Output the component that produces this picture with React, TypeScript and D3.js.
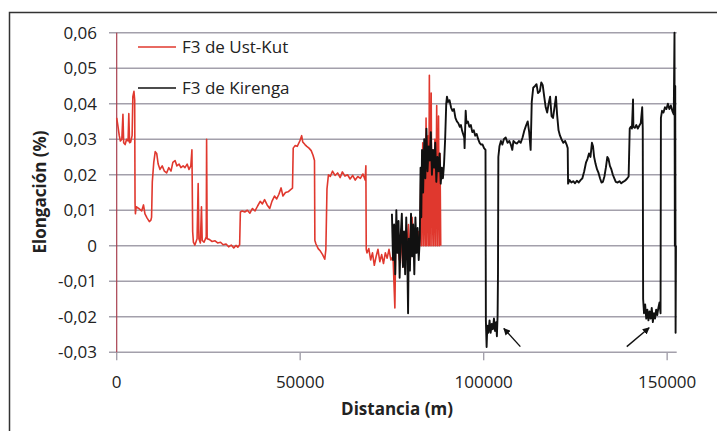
import React from 'react';
import * as d3 from 'd3';

// F3 de Ust-Kut: [distancia (m), elongación (%)]
const ustKut: [number, number][] = [
  [0, 0.036], [300, 0.034], [700, 0.031], [1000, 0.0295], [1400, 0.030], [1700, 0.037], [1900, 0.029],
  [2300, 0.0285], [2700, 0.030], [3100, 0.0295], [3300, 0.0372], [3500, 0.029], [3800, 0.0292], [4200, 0.031],
  [4400, 0.042], [4700, 0.0435], [4900, 0.041], [5000, 0.012], [5100, 0.009], [5300, 0.011], [6000, 0.0105],
  [6800, 0.0098], [7300, 0.0115], [7700, 0.009], [8300, 0.0078], [8900, 0.0068], [9300, 0.0072], [9500, 0.008],
  [9700, 0.018], [10100, 0.0235], [10500, 0.0265], [10900, 0.026], [11300, 0.023], [11800, 0.0215], [12400, 0.0225],
  [13000, 0.021], [13600, 0.0205], [14200, 0.022], [14800, 0.021], [15300, 0.0235], [15900, 0.024], [16400, 0.0225],
  [17000, 0.023], [17500, 0.022], [18100, 0.0225], [18600, 0.022], [19200, 0.023], [19700, 0.0215], [20200, 0.0225],
  [20500, 0.027], [20700, 0.004], [20900, 0.001], [21300, 0.0002], [21900, 0.002], [22200, 0.0175], [22400, 0.002],
  [22800, 0.0008], [23100, 0.011], [23300, 0.0015], [23800, 0.001], [24400, 0.0025], [24500, 0.030], [24650, 0.002],
  [25200, 0.0018], [26000, 0.0012], [26800, 0.0014], [27500, 0.0008], [28300, 0.001], [29000, 0.0003], [29800, 0.0005],
  [30500, -0.0003], [31200, 0.0002], [31900, -0.0006], [32500, 0.0001], [33000, -0.0004], [33500, 0.0003],
  [33700, 0.0095], [34200, 0.0098], [34900, 0.0095], [35600, 0.010], [36300, 0.0092], [37000, 0.0105], [37700, 0.0098],
  [38400, 0.0112], [39100, 0.0125], [39700, 0.0118], [40300, 0.013], [41000, 0.0115], [41700, 0.0105], [42300, 0.0125],
  [43000, 0.014], [43600, 0.0132], [44200, 0.0145], [44800, 0.0163], [45300, 0.014], [46000, 0.015], [46700, 0.0152],
  [47400, 0.0158], [47900, 0.0162], [48100, 0.0275], [48600, 0.0282], [49200, 0.028], [49900, 0.0295], [50400, 0.031],
  [50700, 0.0292], [51300, 0.0285], [51800, 0.028], [52400, 0.0275], [53000, 0.0268], [53500, 0.0255], [53900, 0.024],
  [54000, 0.0015], [54300, 0.0005], [54900, -0.0008], [55500, -0.0015], [56100, -0.0025], [56700, -0.0038], [57000, -0.001],
  [57300, 0.016], [57700, 0.020], [58200, 0.0195], [58800, 0.021], [59500, 0.0198], [60200, 0.0205], [60900, 0.0192],
  [61500, 0.0208], [62200, 0.0196], [62900, 0.020], [63600, 0.0188], [64300, 0.0198], [65000, 0.0185], [65700, 0.0195],
  [66400, 0.019], [67100, 0.0202], [67700, 0.0185], [67900, 0.0225], [68000, -0.001], [68200, -0.002], [68700, -0.0008],
  [69200, -0.004], [69700, -0.002], [70200, -0.0055], [70700, -0.003], [71200, -0.001], [71700, -0.0045], [72200, -0.0025],
  [72700, -0.005], [73200, -0.002], [73700, -0.0035], [74200, -0.001], [74700, -0.004], [75300, -0.003], [75800, -0.0175],
  [76000, -0.002], [76500, 0.002], [77000, -0.004], [77500, 0.001], [78000, -0.006], [78500, 0.003], [79000, -0.002],
  [79500, 0.006], [80000, -0.004], [80500, 0.008], [81000, -0.003], [81500, 0.004], [82000, -0.001], [82300, 0.004],
  [82600, 0.0], [82900, 0.021], [83100, 0.0], [83400, 0.029], [83600, 0.0], [83900, 0.025], [84100, 0.0], [84300, 0.036],
  [84500, 0.0], [84800, 0.031], [85000, 0.0], [85200, 0.048], [85400, 0.0], [85700, 0.043], [85900, 0.0], [86200, 0.027],
  [86400, 0.0], [86700, 0.030], [86900, 0.0], [87200, 0.0395], [87400, 0.0], [87700, 0.0365], [87900, 0.0], [88100, 0.026],
  [88300, 0.0],
];

// F3 de Kirenga: [distancia (m), elongación (%)]
const kirenga: [number, number][] = [
  [75000, 0.009], [75300, -0.004], [75600, 0.006], [75900, -0.008], [76200, 0.010], [76500, -0.002], [76800, 0.007],
  [77100, -0.009], [77400, 0.003], [77700, 0.009], [78000, -0.006], [78300, 0.004], [78600, -0.008], [78900, 0.008],
  [79200, -0.004], [79400, -0.019], [79600, 0.002], [79900, -0.007], [80200, 0.009], [80500, -0.003], [80800, 0.006],
  [81100, -0.008], [81400, 0.008], [81700, -0.002], [82000, 0.005], [82300, -0.004], [82600, 0.002], [82800, 0.022],
  [83000, 0.008], [83200, 0.027], [83500, 0.015], [83800, 0.030], [84100, 0.019], [84400, 0.033], [84700, 0.021],
  [85000, 0.028], [85300, 0.024], [85600, 0.032], [85900, 0.020], [86200, 0.027], [86500, 0.022], [86800, 0.029],
  [87100, 0.018], [87400, 0.025], [87700, 0.021], [88000, 0.026], [88300, 0.0175], [88600, 0.022], [88900, 0.019],
  [89200, 0.023], [89500, 0.030], [89800, 0.040], [90000, 0.042], [90300, 0.0405], [90700, 0.041], [91100, 0.039],
  [91500, 0.038], [91900, 0.0385], [92300, 0.036], [92700, 0.035], [93100, 0.0345], [93500, 0.0335], [93800, 0.034],
  [94100, 0.0325], [94400, 0.0315], [94700, 0.0305], [94800, 0.0275], [94900, 0.031], [95100, 0.038], [95300, 0.0345],
  [95700, 0.035], [96100, 0.0335], [96500, 0.034], [96900, 0.032], [97300, 0.0325], [97700, 0.031], [98100, 0.0315],
  [98500, 0.030], [98900, 0.029], [99300, 0.0285], [99700, 0.0285], [100100, 0.0275], [100500, 0.027], [100600, -0.021],
  [100800, -0.0285], [101000, -0.0225], [101300, -0.0245], [101600, -0.021], [101900, -0.0245], [102200, -0.022],
  [102500, -0.0235], [102800, -0.0205], [103100, -0.024], [103400, -0.0215], [103600, -0.0255], [103800, -0.0195],
  [103900, -0.008], [104000, 0.025], [104300, 0.028], [104700, 0.0295], [105100, 0.0285], [105500, 0.030], [106000, 0.0305],
  [106500, 0.029], [107000, 0.0295], [107400, 0.0285], [107800, 0.027], [108100, 0.0295], [108600, 0.029], [109100, 0.0288],
  [109600, 0.0295], [110100, 0.029], [110600, 0.0305], [111100, 0.0325], [111600, 0.034], [112000, 0.035], [112400, 0.032],
  [112800, 0.027], [113100, 0.0405], [113500, 0.0445], [114000, 0.045], [114400, 0.0455], [114800, 0.043], [115300, 0.0435],
  [115700, 0.046], [116100, 0.0452], [116500, 0.042], [116900, 0.039], [117300, 0.0375], [117700, 0.040], [118100, 0.042],
  [118500, 0.0365], [118900, 0.036], [119300, 0.039], [119700, 0.042], [120000, 0.037], [120400, 0.0325], [120800, 0.031],
  [121200, 0.030], [121700, 0.029], [122200, 0.0295], [122600, 0.0285], [122900, 0.0275], [123000, 0.0175], [123400, 0.0185],
  [123900, 0.0178], [124400, 0.0182], [124900, 0.0176], [125400, 0.0183], [125900, 0.0178], [126400, 0.0185], [126900, 0.019],
  [127400, 0.021], [127900, 0.0235], [128300, 0.0245], [128700, 0.026], [129100, 0.025], [129500, 0.029], [129800, 0.028],
  [130100, 0.025], [130500, 0.023], [130900, 0.0215], [131300, 0.0205], [131700, 0.019], [132100, 0.0178], [132500, 0.018],
  [132900, 0.0195], [133300, 0.022], [133700, 0.025], [134000, 0.0245], [134400, 0.0225], [134800, 0.0215], [135200, 0.020],
  [135600, 0.019], [136000, 0.018], [136500, 0.0178], [137000, 0.0182], [137500, 0.0176], [138000, 0.018], [138500, 0.0183],
  [139000, 0.0188], [139500, 0.0195], [139800, 0.033], [140100, 0.0335], [140400, 0.033], [140700, 0.0412], [140800, 0.0335],
  [141200, 0.0332], [141600, 0.034], [142000, 0.033], [142400, 0.0338], [142800, 0.0345], [143200, 0.039], [143350, 0.033],
  [143450, -0.015], [143700, -0.019], [144000, -0.0165], [144300, -0.0205], [144600, -0.018], [144900, -0.021],
  [145200, -0.0185], [145500, -0.0205], [145800, -0.0175], [146100, -0.0215], [146400, -0.019], [146700, -0.0205],
  [147000, -0.018], [147300, -0.0195], [147600, -0.0175], [147900, -0.016], [148200, -0.019], [148300, 0.036],
  [148600, 0.038], [149000, 0.0375], [149400, 0.039], [149800, 0.0385], [150200, 0.040], [150600, 0.0385], [151000, 0.0395],
  [151400, 0.038], [151800, 0.037], [152000, 0.060], [152100, 0.0], [152200, 0.045], [152300, -0.0245], [152400, 0.0],
];

const yTicks = [-0.03, -0.02, -0.01, 0, 0.01, 0.02, 0.03, 0.04, 0.05, 0.06];
const xTicks = [0, 50000, 100000, 150000];

// arrows: [from distance, from value, to distance, to value]
const arrows: [number, number, number, number][] = [
  [110000, -0.0284, 105500, -0.0233],
  [139000, -0.0284, 145100, -0.0231],
];

const seriesNames = ['F3 de Ust-Kut', 'F3 de Kirenga'];
const seriesColors = ['#e0382e', '#111111'];

const W = 717;
const H = 431;
const font = "'Open Sans', 'Liberation Sans', sans-serif";

export default function App() {
  const x = d3.scaleLinear().domain([0, 152600]).range([116.7, 676.7]);
  const y = d3.scaleLinear().domain([-0.03, 0.06]).range([352.3, 32.7]);
  const line = d3.line<[number, number]>().x(d => x(d[0])).y(d => y(d[1]));
  const fmtY = (v: number) => (v === 0 ? '0' : d3.format('.2f')(v).replace('.', ',').replace('−', '-'));

  return (
    <svg width={W} height={H} style={{ position: 'absolute', left: 0, top: 0, background: '#fff' }} fontFamily={font}>
      <defs>
        <marker id="ah" viewBox="0 0 10 10" refX="9" refY="5" markerWidth="5" markerHeight="5" orient="auto">
          <path d="M0,0 L10,5 L0,10 z" fill="#111" />
        </marker>
      </defs>
      {/* frame */}
      <path d="M9.5,431 V12.5 H717" fill="none" stroke="#333" strokeWidth={1.5} />

      {/* gridlines */}
      {yTicks.map(t => (
        <line key={t} x1={109} x2={x.range()[1]} y1={y(t)} y2={y(t)} stroke="#a3a0ab" strokeWidth={1.6} />
      ))}
      {xTicks.map(t => (
        <line key={t} x1={x(t)} x2={x(t)} y1={y(-0.03)} y2={y(-0.03) + 8} stroke="#a3a0ab" strokeWidth={1.4} />
      ))}
      <line x1={x(0)} x2={x(0)} y1={y(0.06)} y2={y(-0.03)} stroke="#a8404f" strokeWidth={1.2} />

      {/* tick labels */}
      {yTicks.map(t => (
        <text key={t} x={97} y={y(t)} dy="0.36em" textAnchor="end" fontSize={17} fill="#222">{fmtY(t)}</text>
      ))}
      {xTicks.map(t => (
        <text key={t} x={x(t)} y={388} textAnchor="middle" fontSize={17} fill="#222">{String(t)}</text>
      ))}

      {/* series */}
      <path d={line(ustKut) ?? ''} fill="none" stroke={seriesColors[0]} strokeWidth={1.6} strokeLinejoin="round" />
      <path d={line(kirenga) ?? ''} fill="none" stroke={seriesColors[1]} strokeWidth={1.9} strokeLinejoin="round" />

      {/* arrows */}
      {arrows.map((a, i) => (
        <line key={i} x1={x(a[0])} y1={y(a[1])} x2={x(a[2])} y2={y(a[3])} stroke="#111" strokeWidth={1.4} markerEnd="url(#ah)" />
      ))}

      {/* legend */}
      {seriesNames.map((n, i) => (
        <g key={n} transform={`translate(138,${47 + i * 41})`}>
          <line x1={0} x2={38} y1={0} y2={0} stroke={seriesColors[i]} strokeWidth={1.5} />
          <text x={44} y={0} dy="0.36em" fontSize={17} fill="#222">{n}</text>
        </g>
      ))}

      {/* axis titles */}
      <text x={397} y={415} textAnchor="middle" fontSize={17} fontWeight="bold" fill="#222">Distancia (m)</text>
      <text transform="translate(46,192) rotate(-90)" textAnchor="middle" fontSize={17} fontWeight="bold" fill="#222">Elongación (%)</text>
    </svg>
  );
}
